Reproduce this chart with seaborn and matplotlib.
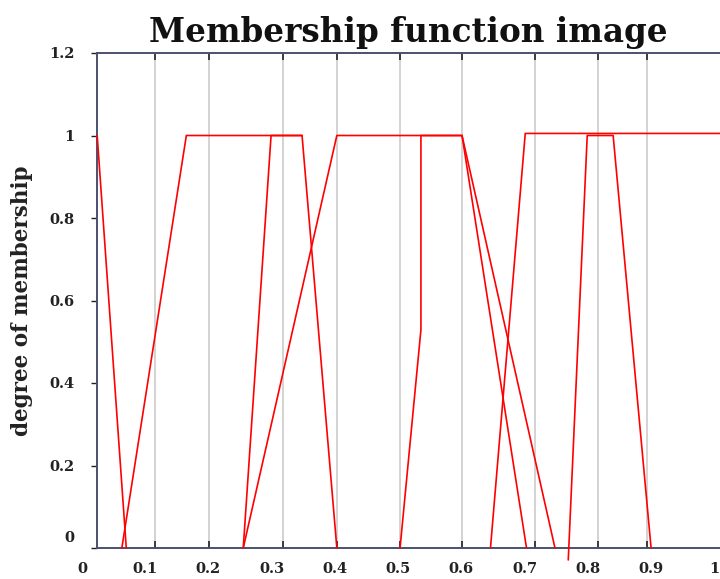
import numpy as np
import pandas as pd
import matplotlib
matplotlib.use("Agg")
import matplotlib.pyplot as plt
import matplotlib.transforms as mtransforms
import seaborn as sns

# membership functions (x, degree)
f1_x = [0.024, 0.070]
f1_y = [1, 0]
f2_x = [0.063, 0.165, 0.348, 0.403]
f2_y = [0, 1, 1, 0]
f3_x = [0.255, 0.299, 0.348]
f3_y = [0, 1, 1]
f4_x = [0.255, 0.403, 0.601, 0.703]
f4_y = [0, 1, 1, 0]
f5_x = [0.503, 0.536, 0.536, 0.601, 0.748]
f5_y = [0, 0.529, 1, 1, 0]
f6_x = [0.646, 0.701, 1.02]
f6_y = [0, 1.005, 1.005]
f7_x = [0.769, 0.799, 0.840, 0.900]
f7_y = [-0.029, 1, 1, 0]

series = [(f1_x, f1_y), (f2_x, f2_y), (f3_x, f3_y), (f4_x, f4_y),
          (f5_x, f5_y), (f6_x, f6_y), (f7_x, f7_y)]

x_labels = ["0.1", "0.2", "0.3", "0.4", "0.5", "0.6", "0.7", "0.8", "0.9", "1"]
x_label_pos = [0.1, 0.2, 0.3, 0.4, 0.5, 0.6, 0.7, 0.8, 0.9, 1.0]
grid_pos = [0.1155, 0.201, 0.318, 0.403, 0.503, 0.601, 0.717, 0.816, 0.894]
y_ticks = [0, 0.2, 0.4, 0.6, 0.8, 1, 1.2]
y_labels = ["0", "0.2", "0.4", "0.6", "0.8", "1", "1.2"]

sns.set_style("white")
plt.rcParams['font.family'] = ['DejaVu Serif']
plt.rcParams['font.weight'] = 'bold'

fig = plt.figure(figsize=(7.2, 5.79), dpi=100)
ax = fig.add_axes([97 / 720, 31 / 579, 623 / 720, 495 / 579])

spine_col = "#4b5070"
txt_col = "#222222"
for g in grid_pos:
    ax.axvline(g, color="#cccccc", lw=1.2, zorder=0)

for xs, ys in series:
    sns.lineplot(x=xs, y=ys, sort=False, color="red", lw=1.2, ax=ax,
                 estimator=None, clip_on=False, zorder=3)

ax.set_xticks(x_label_pos)
ax.set_xticklabels(x_labels, fontsize=10.5, fontweight="bold", color=txt_col)
ax.tick_params(axis="x", which="major", length=0, pad=10)
ax.set_xticks(grid_pos, minor=True)
ax.tick_params(axis="x", which="minor", direction="in", length=5, width=1.2,
               color=txt_col, top=True, bottom=True)

ax.set_yticks(y_ticks)
ax.set_yticklabels(y_labels, fontsize=10.5, fontweight="bold", color=txt_col)
ax.tick_params(axis="y", which="major", direction="out", length=4, width=1,
               color=txt_col, pad=12, left=True)

ax.set_xlim(0.0237, 1.009)
ax.set_ylim(0, 1.2)

# the "0" labels sit off their tick in the original
ax.text(0, 0, "0", transform=mtransforms.offset_copy(
            ax.get_xaxis_transform(), fig=fig, x=0, y=-10, units="points"),
        ha="center", va="top", fontsize=10.5, fontweight="bold", color=txt_col)
lab0 = ax.get_yticklabels()[0]
lab0.set_transform(lab0.get_transform() + mtransforms.ScaledTranslation(0, 8 / 72, fig.dpi_scale_trans))

for s in ["left", "top", "bottom"]:
    ax.spines[s].set_color(spine_col)
    ax.spines[s].set_linewidth(1.4)
ax.spines["right"].set_visible(False)

ax.set_xlabel("")
ax.set_ylabel("degree of membership", fontsize=15.5, fontweight="bold",
              color=txt_col, labelpad=12)
ax.set_title("Membership function image", fontsize=23.5, fontweight="bold",
             color="#111111", pad=8)

fig.savefig("out.png", dpi=100)
